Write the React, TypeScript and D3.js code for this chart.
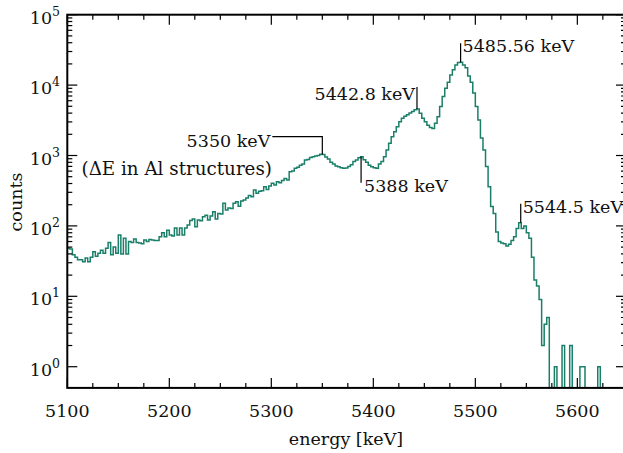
import React, { useEffect, useRef } from 'react'
import * as d3 from 'd3'

// histogram: 2.5 keV bins starting at 5100 keV
const binLow = 5100
const binWidth = 2.5
const counts = [
  48, 47, 39, 36, 33, 33, 31, 35, 31, 36,
  43, 37, 41, 45, 41, 48, 58, 39, 50, 41,
  74, 40, 67, 40, 60, 58, 65, 58, 57, 56,
  63, 60, 64, 63, 62, 62, 70, 80, 70, 87,
  74, 72, 93, 74, 93, 74, 93, 103, 119, 125,
  97, 121, 118, 135, 142, 121, 138, 159, 125, 150,
  148, 210, 168, 180, 176, 210, 220, 190, 225, 233,
  250, 270, 260, 323, 290, 310, 315, 360, 330, 370,
  405, 380, 425, 410, 440, 470, 450, 590, 600, 660,
  680, 730, 760, 860, 880, 940, 960, 980, 1000, 1040,
  1030, 950, 890, 800, 760, 710, 690, 670, 660, 665,
  700, 740, 820, 860, 930, 960, 870, 800, 730, 690,
  670, 660, 760, 820, 960, 1200, 1490, 1850, 2170, 2560,
  3020, 3370, 3600, 3790, 4000, 4230, 4450, 4560, 3990, 3370,
  3020, 2700, 2500, 2420, 2860, 3550, 4980, 6880, 9040, 11000,
  13900, 16500, 19300, 20900, 21200, 19300, 17600, 13500, 11000, 7700,
  4980, 3200, 1770, 1200, 700, 360, 188, 150, 82, 60,
  57, 56, 52, 55, 62, 70, 92, 111, 92, 100,
  80, 67, 36, 17, 14, 9, 2, 4, 5, 0,
  0, 1, 0, 0, 2, 0, 0, 2, 0, 0,
  0, 1, 1, 0, 0, 0, 0, 0, 1, 0,
]

const xMajorTicks = [5100, 5200, 5300, 5400, 5500, 5600]
const yDecades = [0, 1, 2, 3, 4, 5]

const peakEnergies = [5350, 5388, 5442.8, 5485.56, 5544.5]
const peakLabels = ['5350 keV', '5388 keV', '5442.8 keV', '5485.56 keV', '5544.5 keV']
const noteText = '(ΔE in Al structures)'

const W = 623
const H = 453
const font = "'DejaVu Serif', serif"
const fs = 17.5
const lineColor = '#1a7f68'

const App = () => {
  const ref = useRef<SVGSVGElement>(null)

  useEffect(() => {
    draw()
  }, [])

  const draw = () => {
    const svg = d3.select(ref.current)
    svg.selectAll('*').remove()

    const left = 67.3, right = 626, top = 14.7, bottom = 387.9

    const x = d3.scaleLinear().domain([5100, 5647.7]).range([left, right])
    const y = d3.scaleLog().domain([0.5, 1e5]).range([bottom, top])
    const yv = (c: number) => y(Math.max(c, 0.5))

    svg.append('defs').append('clipPath').attr('id', 'plot-clip')
      .append('rect')
      .attr('x', left).attr('y', top)
      .attr('width', right - left).attr('height', bottom - top)

    // histogram as a step line
    const pts: [number, number][] = counts.map((c, i) => [binLow + i * binWidth, c])
    pts.push([binLow + counts.length * binWidth, counts[counts.length - 1]])

    const line = d3.line<[number, number]>()
      .x(d => x(d[0]))
      .y(d => yv(d[1]))
      .curve(d3.curveStepAfter)

    svg.append('path')
      .datum(pts)
      .attr('clip-path', 'url(#plot-clip)')
      .attr('fill', 'none')
      .attr('stroke', lineColor)
      .attr('stroke-width', 1.5)
      .attr('d', line)

    // frame
    svg.append('rect')
      .attr('x', left).attr('y', top)
      .attr('width', right - left).attr('height', bottom - top)
      .attr('fill', 'none')
      .attr('stroke', '#000')
      .attr('stroke-width', 2)

    const ticks = svg.append('g').attr('stroke', '#000').attr('stroke-width', 1.2)

    // x ticks (bottom and top)
    const xMinor = d3.range(5100, 5650, 25).filter(v => !xMajorTicks.includes(v))
    const xAll = [
      ...xMajorTicks.map(v => ({ v, len: 10 })),
      ...xMinor.map(v => ({ v, len: 5 })),
    ]
    ticks.selectAll('line.xb').data(xAll).enter().append('line')
      .attr('x1', d => x(d.v)).attr('x2', d => x(d.v))
      .attr('y1', bottom).attr('y2', d => bottom - d.len)
    ticks.selectAll('line.xt').data(xAll).enter().append('line')
      .attr('x1', d => x(d.v)).attr('x2', d => x(d.v))
      .attr('y1', top).attr('y2', d => top + d.len)

    // y ticks (left and right)
    const yAll: { v: number; len: number }[] = []
    yDecades.forEach(e => {
      yAll.push({ v: Math.pow(10, e), len: 10 })
      if (e < 5) d3.range(2, 10).forEach(m => yAll.push({ v: m * Math.pow(10, e), len: 5 }))
    })
    ticks.selectAll('line.yl').data(yAll).enter().append('line')
      .attr('x1', left).attr('x2', d => left + d.len)
      .attr('y1', d => y(d.v)).attr('y2', d => y(d.v))
    ticks.selectAll('line.yr').data(yAll).enter().append('line')
      .attr('x1', right).attr('x2', d => right - d.len)
      .attr('y1', d => y(d.v)).attr('y2', d => y(d.v))

    // tick labels
    svg.append('g')
      .attr('font-family', font).attr('font-size', fs).attr('fill', '#111')
      .attr('text-anchor', 'middle')
      .selectAll('text').data(xMajorTicks).enter().append('text')
      .attr('x', d => x(d)).attr('y', 416.5)
      .text(d => d)

    const yl = svg.append('g')
      .attr('font-family', font).attr('font-size', fs).attr('fill', '#111')
      .attr('text-anchor', 'end')
      .selectAll('text').data(yDecades).enter().append('text')
      .attr('x', 60).attr('y', d => y(Math.pow(10, d)) + 9)
    yl.append('tspan').text('10')
    yl.append('tspan').attr('dy', -8).attr('font-size', 12.5).text(d => d)

    // axis titles
    svg.append('text')
      .attr('font-family', font).attr('font-size', fs).attr('fill', '#111')
      .attr('text-anchor', 'middle')
      .attr('x', 346).attr('y', 445)
      .text('energy [keV]')

    svg.append('text')
      .attr('font-family', font).attr('font-size', fs).attr('fill', '#111')
      .attr('text-anchor', 'middle')
      .attr('transform', 'translate(22,202) rotate(-90)')
      .text('counts')

    // peak annotations
    const ann = svg.append('g').attr('font-family', font).attr('font-size', fs).attr('fill', '#111')
    const curveY = (e: number) => yv(counts[Math.floor((e - binLow) / binWidth)])

    peakEnergies.forEach((e, i) => {
      const px = x(e)
      const py = curveY(e)
      const label = peakLabels[i]
      if (i === 0) {
        // elbow leader to the left
        const hy = py - 18
        ann.append('path')
          .attr('d', `M${px},${py} V${hy} H${px - 50}`)
          .attr('fill', 'none').attr('stroke', '#000').attr('stroke-width', 1.2)
        ann.append('text').attr('x', px - 52).attr('y', hy + 10)
          .attr('text-anchor', 'end').text(label)
        ann.append('text').attr('x', 81.5).attr('y', hy + 38.5)
          .attr('font-size', 18.3).text(noteText)
      } else if (i === 1) {
        ann.append('line')
          .attr('x1', px).attr('x2', px).attr('y1', py).attr('y2', py + 26)
          .attr('stroke', '#000').attr('stroke-width', 1.2)
        ann.append('text').attr('x', px + 3).attr('y', py + 35.5).text(label)
      } else if (i === 2) {
        ann.append('line')
          .attr('x1', px).attr('x2', px).attr('y1', py).attr('y2', py - 22)
          .attr('stroke', '#000').attr('stroke-width', 1.2)
        ann.append('text').attr('x', px - 2).attr('y', py - 9.5)
          .attr('text-anchor', 'end').text(label)
      } else {
        ann.append('line')
          .attr('x1', px).attr('x2', px).attr('y1', py).attr('y2', py - 19)
          .attr('stroke', '#000').attr('stroke-width', 1.2)
        ann.append('text').attr('x', px + 2).attr('y', py - 10).text(label)
      }
    })
  }

  return (
    <svg
      ref={ref}
      width={W}
      height={H}
      style={{ position: 'absolute', left: 0, top: 0, background: '#fff' }}
    />
  )
}

export default App
